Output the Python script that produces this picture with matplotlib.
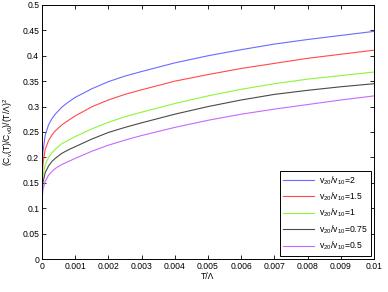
import numpy as np
import matplotlib
matplotlib.use('Agg')
import matplotlib.pyplot as plt

plt.rcParams['font.family'] = ['Liberation Sans', 'DejaVu Sans']
plt.rcParams['mathtext.default'] = 'regular'
plt.rcParams['font.size'] = 6.2

# T/Lambda sample points
t = [0, 0.000003, 0.00001, 0.00003, 0.0001, 0.0002, 0.0003, 0.0004, 0.0006,
     0.0008, 0.001, 0.0015, 0.002, 0.0025, 0.003, 0.004, 0.005, 0.006,
     0.007, 0.008, 0.009, 0.01]

r2 = [0, 0.11, 0.17, 0.21, 0.244, 0.264, 0.276, 0.285, 0.299,
      0.309, 0.318, 0.335, 0.349, 0.360, 0.369, 0.386, 0.400, 0.412,
      0.423, 0.432, 0.440, 0.448]
r15 = [0, 0.105, 0.155, 0.187, 0.216, 0.233, 0.244, 0.252, 0.264,
       0.273, 0.2815, 0.2995, 0.313, 0.324, 0.333, 0.350, 0.363, 0.375,
       0.385, 0.395, 0.403, 0.411]
r1 = [0, 0.1, 0.14, 0.163, 0.186, 0.200, 0.209, 0.216, 0.227,
      0.234, 0.241, 0.256, 0.269, 0.280, 0.289, 0.306, 0.321, 0.334,
      0.345, 0.354, 0.361, 0.368]
r075 = [0, 0.095, 0.13, 0.150, 0.170, 0.183, 0.192, 0.198, 0.208,
        0.215, 0.221, 0.236, 0.249, 0.259, 0.268, 0.285, 0.300, 0.313,
        0.324, 0.332, 0.339, 0.345]
r05 = [0, 0.09, 0.12, 0.136, 0.153, 0.165, 0.172, 0.178, 0.186,
       0.192, 0.198, 0.212, 0.224, 0.234, 0.243, 0.259, 0.273, 0.285,
       0.295, 0.304, 0.313, 0.321]

labels = ['2', '1.5', '1', '0.75', '0.5']
colors = ['#6b6bff', '#ff4a4a', '#8cf53c', '#4a4a4a', '#c46bff']

fig = plt.figure(figsize=(3.88, 2.92), dpi=100)
ax = fig.add_axes([0.108, 0.113, 0.856, 0.870])

for y, lab, c in zip([r2, r15, r1, r075, r05], labels, colors):
    ax.plot(t, y, color=c, lw=0.8, label='v$_{20}$/v$_{10}$=' + lab)

ax.set_xlim(0, 0.01)
ax.set_ylim(0, 0.5)
xt = np.arange(0, 0.0101, 0.001)
ax.set_xticks(xt)
ax.set_xticklabels(['0'] + ['%g' % round(v, 3) for v in xt[1:]])
yt = np.arange(0, 0.501, 0.05)
ax.set_yticks(yt)
ax.set_yticklabels(['0'] + ['%g' % round(v, 2) for v in yt[1:]])
ax.tick_params(direction='in', top=True, right=True, length=3, width=0.6, pad=2)
for s in ax.spines.values():
    s.set_linewidth(0.7)

ax.set_xlabel('T/Λ', labelpad=1)
ax.set_ylabel('(C$_v$(T)/C$_{v0}$)/(T/Λ)$^2$', labelpad=5)

leg = ax.legend(loc='lower right', fancybox=False, edgecolor='black',
                framealpha=1, borderaxespad=0.4, handlelength=3.6,
                handletextpad=0.5, labelspacing=0.45, borderpad=0.4)
leg.get_frame().set_linewidth(0.7)

fig.savefig('out.png', dpi=100)
